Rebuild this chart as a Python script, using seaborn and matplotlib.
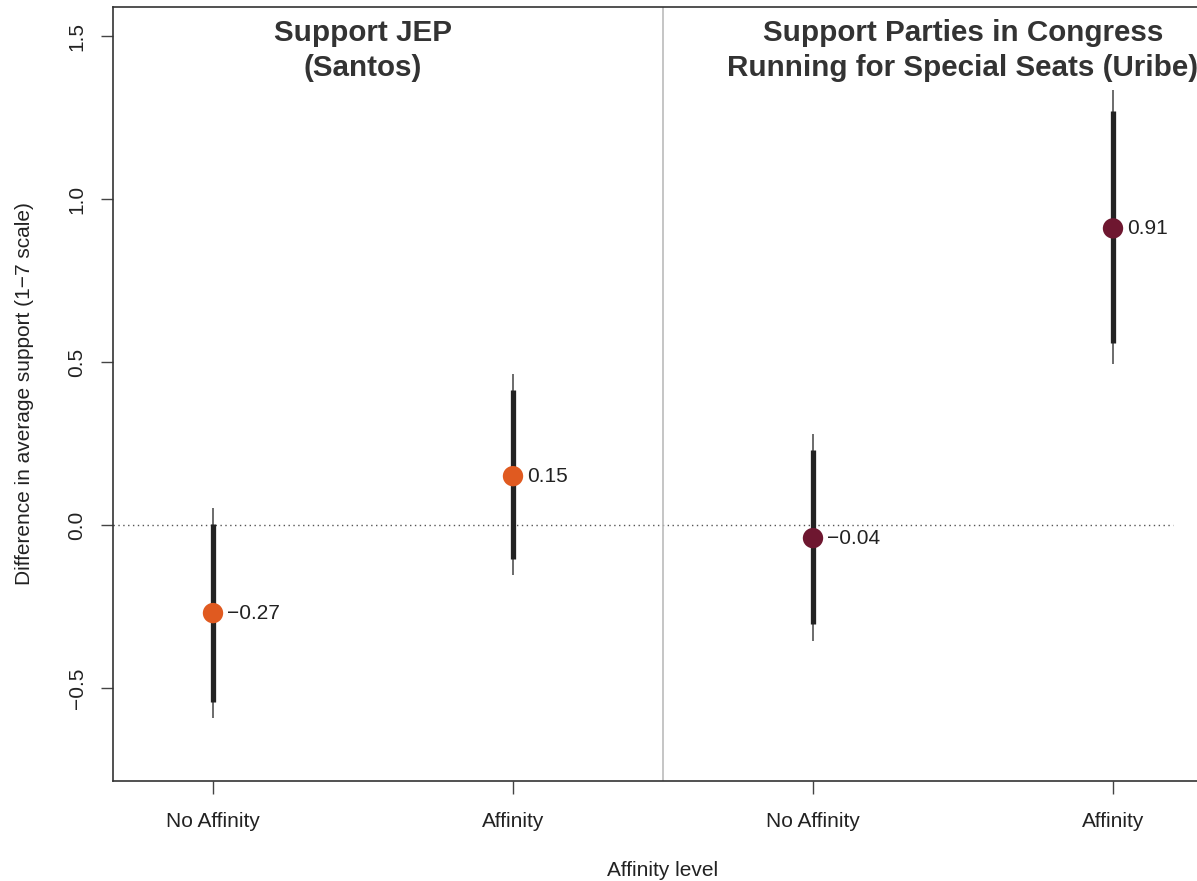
import matplotlib
matplotlib.use("Agg")
import matplotlib.pyplot as plt
import seaborn as sns
import pandas as pd

# ---- data ----
panels = ["Santos", "Santos", "Uribe", "Uribe"]
affinity = ["No Affinity", "Affinity", "No Affinity", "Affinity"]
estimate = [-0.27, 0.15, -0.04, 0.91]
ci90_low = [-0.543, -0.104, -0.304, 0.558]
ci90_high = [0.003, 0.414, 0.230, 1.270]
ci95_low = [-0.592, -0.153, -0.356, 0.494]
ci95_high = [0.052, 0.463, 0.279, 1.334]
labels = ["\u22120.27", "0.15", "\u22120.04", "0.91"]
panel_titles = ["Support JEP\n(Santos)",
                "Support Parties in Congress\nRunning for Special Seats (Uribe)"]
yticks = [-0.5, 0.0, 0.5, 1.0, 1.5]
ytick_labels = ["\u22120.5", "0.0", "0.5", "1.0", "1.5"]

df = pd.DataFrame({
    "pos": [1, 2, 3, 4],
    "panel": panels,
    "affinity": affinity,
    "est": estimate,
})

sns.set_theme(style="ticks")
plt.rcParams["font.family"] = ["Liberation Sans", "DejaVu Sans"]

W, H = 1197, 881
fig = plt.figure(figsize=(W / 100, H / 100), dpi=100)
left_px, right_px, top_px, bot_px = 113, 1213, 7, 781
ax = fig.add_axes([left_px / W, 1 - bot_px / H, (right_px - left_px) / W, (bot_px - top_px) / H])

# CI lines
ax.vlines(df["pos"], ci95_low, ci95_high, color="#444444", lw=1.1, zorder=2)
ax.vlines(df["pos"], ci90_low, ci90_high, color="#222222", lw=3.8, zorder=3)

# points
sns.scatterplot(data=df, x="pos", y="est", hue="panel",
                palette={"Santos": "#E05A20", "Uribe": "#6E1730"},
                s=215, edgecolor="none", legend=False, zorder=4, ax=ax)

for x, y, t in zip(df["pos"], estimate, labels):
    ax.annotate(t, (x, y), xytext=(10, 0), textcoords="offset points",
                va="center", ha="left", fontsize=15, color="#222222")

ax.axhline(0, xmin=0, xmax=0.9636, color="#555555", lw=1.0, ls=(0, (1, 2.5)), zorder=1)
ax.axvline(2.5, color="#bbbbbb", lw=1.2, zorder=1)

ax.set_xlim(2 / 3, 13 / 3)
ax.set_ylim(-0.785, 1.589)

ax.set_xticks(df["pos"])
ax.set_xticklabels(affinity, fontsize=15, color="#222222")
ax.set_yticks(yticks)
ax.set_yticklabels(ytick_labels, fontsize=15, color="#222222", rotation=90, va="center")
ax.tick_params(axis="both", length=9, width=1.0, color="#444444", direction="out")
ax.tick_params(axis="x", pad=13)
ax.tick_params(axis="y", pad=10)

for s in ["left", "bottom", "top", "right"]:
    ax.spines[s].set_color("#333333")
    ax.spines[s].set_linewidth(1.2)

for xc, t in zip([1.5, 3.5], panel_titles):
    ax.text(xc, 0.984, t, transform=ax.get_xaxis_transform(), ha="center", va="top",
            fontsize=21.3, fontweight="bold", color="#333333", linespacing=1.28)

ax.set_xlabel("")
ax.set_ylabel("")
fig.text(663 / W, 1 - 871 / H, "Affinity level", ha="center", va="center",
         fontsize=15, color="#222222")
fig.text(25 / W, 1 - 394 / H, "Difference in average support (1\u22127 scale)",
         ha="center", va="center", rotation=90, fontsize=15, color="#222222")

fig.savefig("out.png", dpi=100)
